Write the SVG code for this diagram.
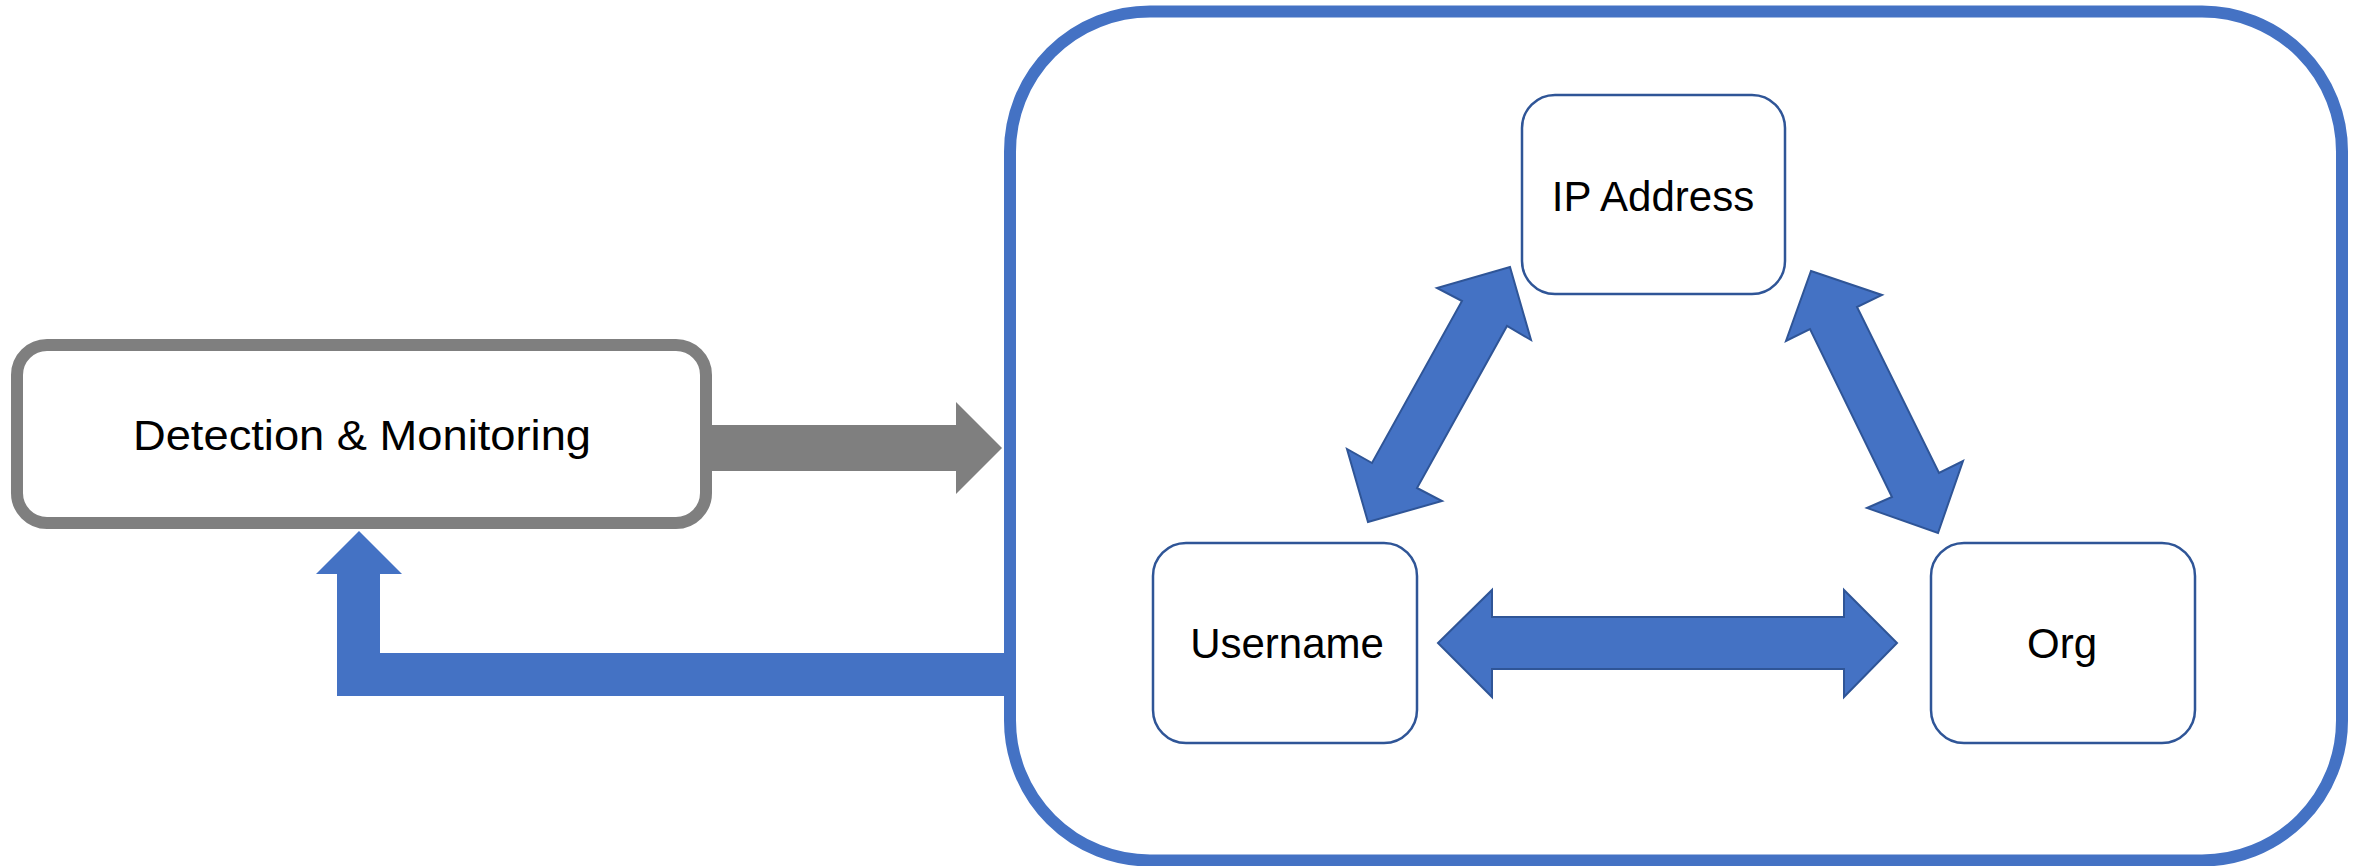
<svg xmlns="http://www.w3.org/2000/svg" width="2362" height="866" viewBox="0 0 2362 866">
<style>
.lbl{font-family:"Liberation Sans",Arial,sans-serif;font-size:42px;fill:#000;text-anchor:middle}
.node{fill:#fff;stroke:#2f5597;stroke-width:2.5}
.barrow{fill:#4472c4;stroke:#2f5597;stroke-width:2;stroke-linejoin:miter}
</style>
<rect width="2362" height="866" fill="#fff"/>
<g id="connectors">
  <polygon id="gray-arrow" points="712,425 956,425 956,402 1002,448 956,494 956,471 712,471" fill="#7f7f7f"/>
  <polygon id="feedback-arrow" points="359,531 402,574 380,574 380,653 1004,653 1004,696 337,696 337,574 316,574" fill="#4472c4"/>
  <polygon class="barrow" points="1510,267 1531,340 1507,326 1417,488 1442,501 1368,522 1347,449 1372,463 1462,301 1437,288"/>
  <polygon class="barrow" points="1811,271 1882,295 1857,307 1939,473 1963,461 1938,533 1867,508 1892,497 1810,329 1786,341"/>
  <polygon class="barrow" points="1438,643 1492,590 1492,617 1844,617 1844,590 1897,643 1844,697 1844,669 1492,669 1492,697"/>
</g>
<g id="container">
  <rect x="1010" y="11.5" width="1332" height="849" rx="140" ry="140" fill="none" stroke="#4472c4" stroke-width="12"/>
</g>
<g id="detection">
  <rect x="17" y="345" width="689" height="178" rx="30" ry="30" fill="#fff" stroke="#7f7f7f" stroke-width="12"/>
  <text class="lbl" x="362" y="450" textLength="458" lengthAdjust="spacingAndGlyphs">Detection &amp; Monitoring</text>
</g>
<g id="ip-address">
  <rect class="node" x="1522" y="95" width="263" height="199" rx="33" ry="33"/>
  <text class="lbl" x="1653" y="211">IP Address</text>
</g>
<g id="username">
  <rect class="node" x="1153" y="543" width="264" height="200" rx="33" ry="33"/>
  <text class="lbl" x="1287" y="658">Username</text>
</g>
<g id="org">
  <rect class="node" x="1931" y="543" width="264" height="200" rx="33" ry="33"/>
  <text class="lbl" x="2062" y="658">Org</text>
</g>
</svg>
